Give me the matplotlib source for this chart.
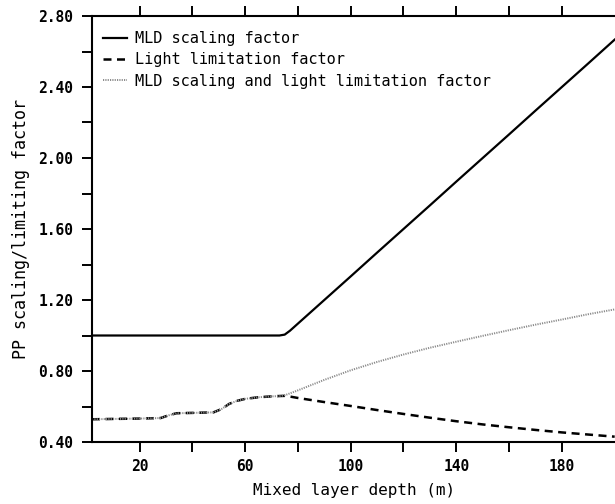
import matplotlib
matplotlib.use("Agg")
import matplotlib.pyplot as plt
from matplotlib.ticker import FixedLocator

# Mixed layer depth (m)
mld = [2, 10, 20, 28, 31, 34, 40, 48, 51, 54, 57, 60, 65, 70, 73, 75, 77, 80, 90, 100,
       110, 120, 130, 140, 150, 160, 170, 180, 190, 200]

# MLD scaling factor
mld_factor = [1.0, 1.0, 1.0, 1.0, 1.0, 1.0, 1.0, 1.0, 1.0, 1.0, 1.0, 1.0, 1.0, 1.0, 1.0,
              1.005, 1.027, 1.067, 1.200, 1.333, 1.467, 1.600, 1.733, 1.867, 2.000,
              2.133, 2.267, 2.400, 2.533, 2.667]

# Light limitation factor
light_factor = [0.528, 0.530, 0.532, 0.535, 0.550, 0.562, 0.564, 0.567, 0.585, 0.615,
                0.632, 0.643, 0.652, 0.657, 0.659, 0.660, 0.656, 0.648, 0.625, 0.603,
                0.580, 0.558, 0.537, 0.517, 0.499, 0.483, 0.468, 0.454, 0.442, 0.430]

# MLD scaling and light limitation factor
combined = [0.528, 0.530, 0.532, 0.535, 0.550, 0.562, 0.564, 0.567, 0.585, 0.615,
            0.632, 0.643, 0.652, 0.657, 0.659, 0.663, 0.674, 0.691, 0.750, 0.804,
            0.851, 0.893, 0.931, 0.965, 0.998, 1.030, 1.061, 1.090, 1.120, 1.147]

labels = ["MLD scaling factor", "Light limitation factor",
          "MLD scaling and light limitation factor"]

x_major = [20, 60, 100, 140, 180]
x_minor = [40, 80, 120, 160]
y_labels = [0.40, 0.80, 1.20, 1.60, 2.00, 2.40, 2.80]
y_minor = [0.60, 1.00, 1.40, 1.80, 2.20, 2.60]

plt.rcParams['font.family'] = ['DejaVu Sans Mono']

fig = plt.figure(figsize=(6.15, 5.04), dpi=100)
ax = fig.add_axes([92 / 615, 1 - 442 / 504, 524 / 615, 426 / 504])

ax.plot(mld, mld_factor, color='black', lw=1.6, solid_joinstyle='round', label=labels[0])
ax.plot(mld, light_factor, color='black', lw=1.8, dashes=(3.2, 2.2), label=labels[1])
ax.plot(mld, combined, color='#8a8a8a', lw=1.4, linestyle=(0, (0.6, 0.6)), label=labels[2])

ax.set_xlim(2, 200.5)
ax.set_ylim(0.40, 2.80)

ax.xaxis.set_major_locator(FixedLocator(x_major))
ax.xaxis.set_minor_locator(FixedLocator(x_minor))
ax.yaxis.set_major_locator(FixedLocator(y_labels))
ax.yaxis.set_minor_locator(FixedLocator(y_minor))
ax.set_yticklabels([f"{v:.2f}" for v in y_labels], fontweight='bold')
ax.set_xticklabels([str(v) for v in x_major], fontweight='bold')

for axis in ('x', 'y'):
    ax.tick_params(axis=axis, which='both', direction='out', length=7.5, width=1.4,
                   labelsize=10.5, color='black')
ax.tick_params(axis='x', which='both', top=True, pad=5)
ax.tick_params(axis='y', which='both', pad=6)

for s in ('left', 'bottom', 'top'):
    ax.spines[s].set_linewidth(1.5)
ax.spines['right'].set_visible(False)

ax.set_xlabel("Mixed layer depth (m)", fontsize=11.5, labelpad=6)
ax.set_ylabel("PP scaling/limiting factor", fontsize=12, labelpad=6)

leg = ax.legend(loc='upper left', frameon=False, fontsize=11, handlelength=1.6,
                handletextpad=0.5, labelspacing=0.42, borderaxespad=0.3,
                bbox_to_anchor=(0.0, 0.99))

fig.savefig("out.png", dpi=100)
